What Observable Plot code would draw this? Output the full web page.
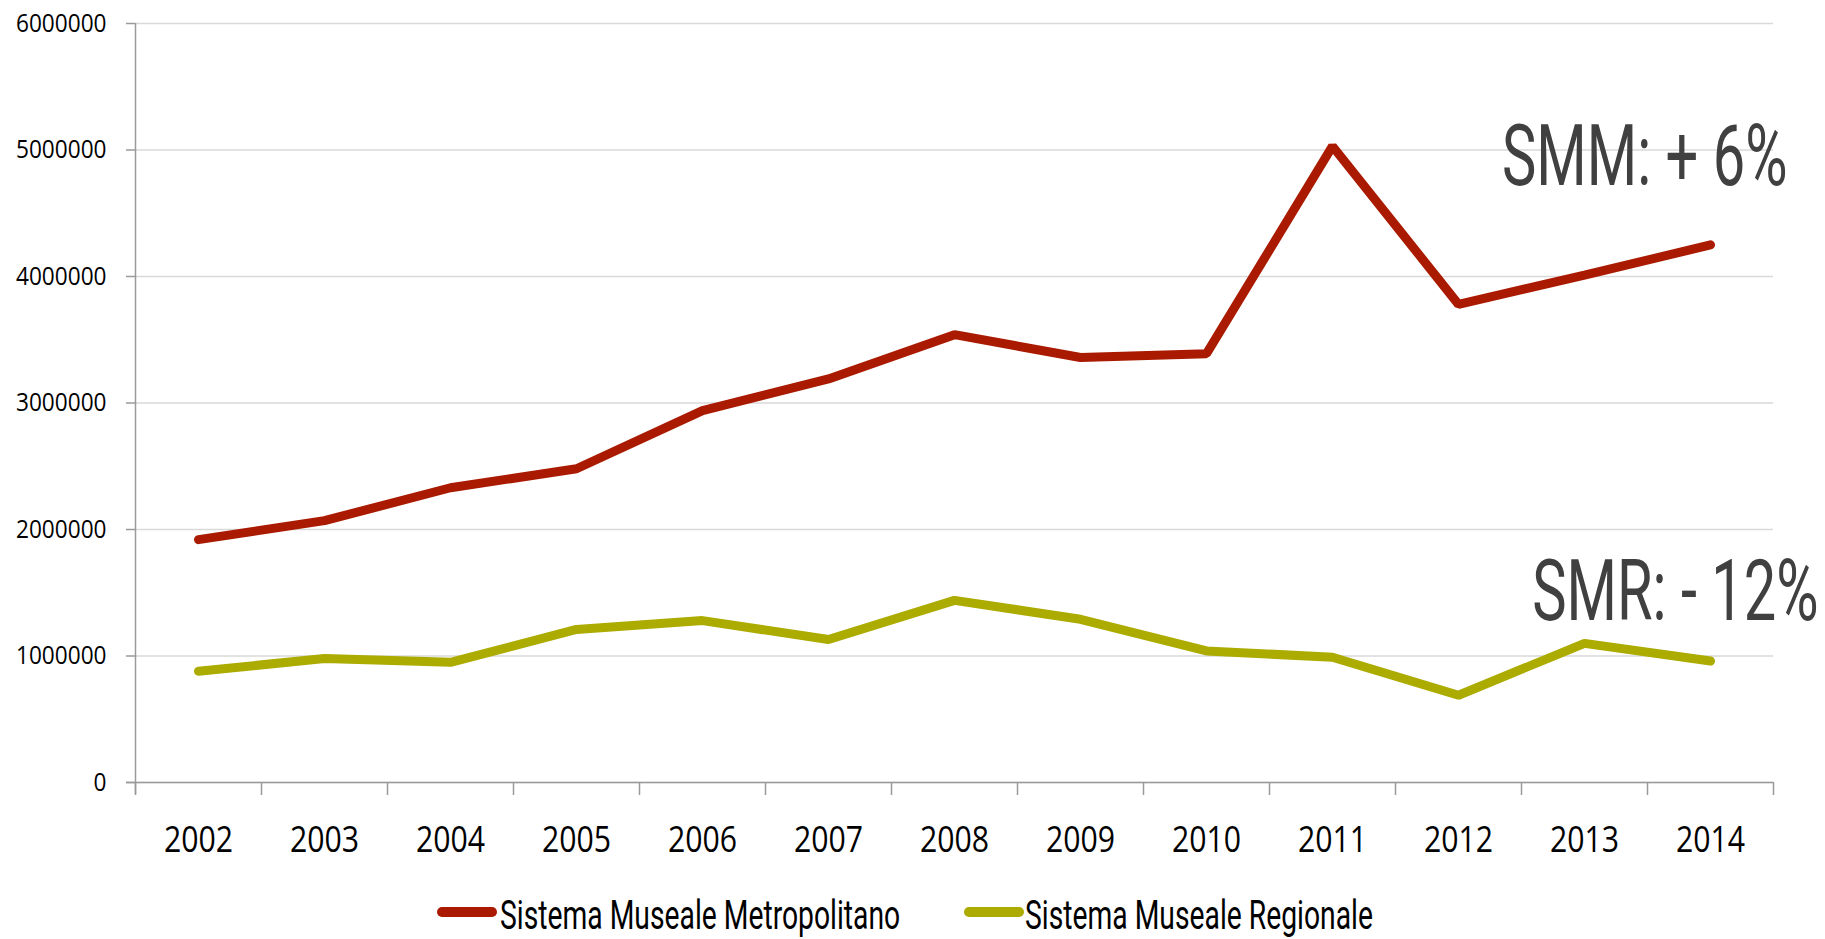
<!DOCTYPE html>
<html>
<head>
<meta charset="utf-8">
<script src="https://cdn.jsdelivr.net/npm/d3@7"></script>
<script src="https://cdn.jsdelivr.net/npm/@observablehq/plot@0.6"></script>
<style>
  body { margin: 0; background: #fff; }
  #wrap { position: relative; width: 1825px; height: 939px; overflow: hidden; }
  #legend svg { display: block; }
</style>
</head>
<body>
<div id="wrap">
  <div id="chart"></div>
  <div id="legend"></div>
</div>
<script>
// ---- data ----
const years = [2002, 2003, 2004, 2005, 2006, 2007, 2008, 2009, 2010, 2011, 2012, 2013, 2014];
const smm = [1920000, 2070000, 2330000, 2480000, 2940000, 3190000, 3540000, 3360000, 3390000, 5030000, 3780000, 4010000, 4250000];
const smr = [880000, 980000, 950000, 1210000, 1280000, 1130000, 1440000, 1290000, 1040000, 990000, 690000, 1100000, 960000];
const seriesNames = ["Sistema Museale Metropolitano", "Sistema Museale Regionale"];
const seriesColors = ["#AA1A00", "#ABAB00"];
const yTicks = [0, 1000000, 2000000, 3000000, 4000000, 5000000, 6000000];
const annotations = ["SMM: + 6%", "SMR: - 12%"];

// ---- tables built from the arrays ----
const rows = years.flatMap((yr, i) => [
  {year: yr, value: smm[i], series: seriesNames[0]},
  {year: yr, value: smr[i], series: seriesNames[1]}
]);
const bounds = years.map(y => y - 0.5).concat([years[years.length - 1] + 0.5]);
const lastPoints = [
  {year: years[years.length - 1], value: smm[smm.length - 1], label: annotations[0]},
  {year: years[years.length - 1], value: smr[smr.length - 1], label: annotations[1]}
];

const tickFont = "'Open Sans', 'Liberation Sans', sans-serif";
const bigFont = "Roboto, 'Liberation Sans', sans-serif";

const chart = Plot.plot({
  width: 1825,
  height: 880,
  marginLeft: 135,
  marginRight: 52,
  marginTop: 23,
  marginBottom: 98,
  style: {background: "#fff", overflow: "visible"},
  x: {type: "linear", domain: [bounds[0], bounds[bounds.length - 1]]},
  y: {domain: [0, 6000000]},
  color: {domain: seriesNames, range: seriesColors},
  marks: [
    Plot.gridY(yTicks, {stroke: "#d9d9d9", strokeOpacity: 1, strokeWidth: 1.5}),
    Plot.ruleX([bounds[0]], {stroke: "#9a9a9a", strokeWidth: 1.5, insetBottom: -12}),
    Plot.ruleY([0], {stroke: "#9a9a9a", strokeWidth: 1.5, insetLeft: -9}),
    Plot.axisY(yTicks, {tickSize: 9, tickPadding: 20, tickFormat: d => String(d), fontSize: 26, fontFamily: tickFont, stroke: "#9a9a9a", strokeWidth: 1.5, fill: "#000", label: null}),
    Plot.axisX(bounds, {tickSize: 13, tickFormat: () => "", stroke: "#9a9a9a", strokeWidth: 1.5, label: null}),
    Plot.axisX(years, {tickSize: 0, tickPadding: 44, tickFormat: d => String(d), fontSize: 36, fontFamily: tickFont, fill: "#000", label: null}),
    Plot.lineY(rows, {x: "year", y: "value", z: "series", stroke: "series", strokeWidth: 9, strokeLinecap: "round", strokeLinejoin: "miter"}),
    Plot.text(lastPoints.slice(0, 1), {x: "year", y: "value", text: "label", textAnchor: "end", lineAnchor: "bottom", dx: 77, dy: -60, fontSize: 85, fontFamily: bigFont, fill: "#404040"}),
    Plot.text(lastPoints.slice(1), {x: "year", y: "value", text: "label", textAnchor: "end", lineAnchor: "bottom", dx: 108, dy: -41, fontSize: 85, fontFamily: bigFont, fill: "#404040"})
  ]
});
document.getElementById("chart").appendChild(chart);

// emulate the condensed typeface of the original (no condensed font installed):
// squeeze each text horizontally around its own anchor point (vertical offsets untouched)
function squeezeText(t, k) {
  const xa = t.getAttribute("x");
  const x = xa !== null && isFinite(+xa) ? +xa : 0;
  if (xa !== null && isFinite(+xa)) t.setAttribute("x", 0);
  const tr = t.getAttribute("transform") || "";
  t.setAttribute("transform", `${tr} translate(${x},0) scale(${k},1)`.trim());
}
const squeeze = {85: 0.68, 36: 0.84, 26: 0.87};
chart.querySelectorAll("text").forEach(t => {
  const fs = Math.round(parseFloat(getComputedStyle(t).fontSize));
  const k = squeeze[fs];
  if (k && t.textContent.trim()) squeezeText(t, k);
});

// ---- legend (below the chart) ----
const swatchStart = [442, 969];
const textStart = [500, 1025];
const lg = d3.select("#legend").append("svg")
  .attr("width", 1825).attr("height", 59)
  .attr("font-family", bigFont);
seriesNames.forEach((name, i) => {
  lg.append("line")
    .attr("x1", swatchStart[i]).attr("x2", swatchStart[i] + 50)
    .attr("y1", 32).attr("y2", 32)
    .attr("stroke", seriesColors[i]).attr("stroke-width", 10)
    .attr("stroke-linecap", "round");
  lg.append("text")
    .attr("transform", `translate(${textStart[i]},49) scale(0.707,1)`)
    .attr("font-size", 40)
    .attr("fill", "#000")
    .text(name);
});
</script>
</body>
</html>
